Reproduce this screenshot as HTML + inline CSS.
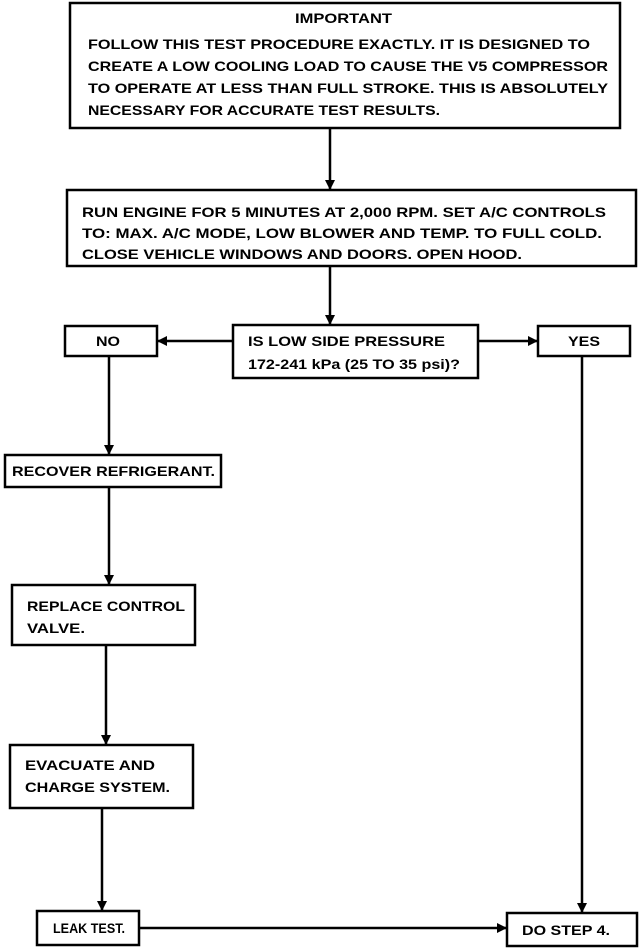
<!DOCTYPE html>
<html><head><meta charset="utf-8"><style>
html,body{margin:0;padding:0;background:#fff;}
svg{display:block}
text{font-family:"Liberation Sans",Arial,sans-serif;font-size:14px;font-weight:bold;fill:#000;}
</style></head><body>
<svg width="640" height="950" viewBox="0 0 640 950" xmlns="http://www.w3.org/2000/svg">
<defs><marker id="a" markerWidth="10" markerHeight="10" refX="9" refY="5" orient="auto" markerUnits="userSpaceOnUse"><path d="M0,0 L10,5 L0,10 z" fill="#000"/></marker></defs>
<g fill="none" stroke="#000" stroke-width="2.5">
<rect x="70" y="3" width="550" height="125"/>
<rect x="67" y="190" width="569" height="76"/>
<rect x="233" y="325" width="245" height="53"/>
<rect x="65" y="326" width="92" height="30"/>
<rect x="538" y="326" width="92" height="30"/>
<rect x="5" y="455" width="216" height="32"/>
<rect x="12" y="585" width="183" height="60"/>
<rect x="10" y="745" width="183" height="63"/>
<rect x="37" y="911" width="102" height="34"/>
<rect x="507" y="913" width="130" height="33"/>
</g>
<g stroke="#000" stroke-width="2.5" fill="none" marker-end="url(#a)">
<line x1="330" y1="128" x2="330" y2="189"/>
<line x1="330" y1="266" x2="330" y2="324"/>
<line x1="233" y1="341" x2="158" y2="341"/>
<line x1="478" y1="341" x2="537" y2="341"/>
<line x1="109" y1="356" x2="109" y2="454"/>
<line x1="109" y1="487" x2="109" y2="584"/>
<line x1="106" y1="645" x2="106" y2="744"/>
<line x1="102" y1="808" x2="102" y2="910"/>
<line x1="582" y1="356" x2="582" y2="912"/>
<line x1="139" y1="928" x2="506" y2="928"/>
</g>
<g lengthAdjust="spacingAndGlyphs">
<text x="295" y="23" textLength="97" lengthAdjust="spacingAndGlyphs">IMPORTANT</text>
<text x="88" y="49" textLength="502" lengthAdjust="spacingAndGlyphs">FOLLOW THIS TEST PROCEDURE EXACTLY. IT IS DESIGNED TO</text>
<text x="88" y="71" textLength="520" lengthAdjust="spacingAndGlyphs">CREATE A LOW COOLING LOAD TO CAUSE THE V5 COMPRESSOR</text>
<text x="88" y="93" textLength="520" lengthAdjust="spacingAndGlyphs">TO OPERATE AT LESS THAN FULL STROKE. THIS IS ABSOLUTELY</text>
<text x="88" y="115" textLength="352" lengthAdjust="spacingAndGlyphs">NECESSARY FOR ACCURATE TEST RESULTS.</text>
<text x="82" y="217" textLength="524" lengthAdjust="spacingAndGlyphs">RUN ENGINE FOR 5 MINUTES AT 2,000 RPM. SET A/C CONTROLS</text>
<text x="82" y="238" textLength="520" lengthAdjust="spacingAndGlyphs">TO: MAX. A/C MODE, LOW BLOWER AND TEMP. TO FULL COLD.</text>
<text x="82" y="259" textLength="440" lengthAdjust="spacingAndGlyphs">CLOSE VEHICLE WINDOWS AND DOORS. OPEN HOOD.</text>
<text x="248" y="346" textLength="197" lengthAdjust="spacingAndGlyphs">IS LOW SIDE PRESSURE</text>
<text x="248" y="369" textLength="212" lengthAdjust="spacingAndGlyphs">172-241 kPa (25 TO 35 psi)?</text>
<text x="96" y="346" textLength="24" lengthAdjust="spacingAndGlyphs">NO</text>
<text x="568" y="346" textLength="32" lengthAdjust="spacingAndGlyphs">YES</text>
<text x="12" y="476" textLength="203" lengthAdjust="spacingAndGlyphs">RECOVER REFRIGERANT.</text>
<text x="27" y="611" textLength="158" lengthAdjust="spacingAndGlyphs">REPLACE CONTROL</text>
<text x="27" y="633" textLength="58" lengthAdjust="spacingAndGlyphs">VALVE.</text>
<text x="25" y="770" textLength="130" lengthAdjust="spacingAndGlyphs">EVACUATE AND</text>
<text x="25" y="792" textLength="145" lengthAdjust="spacingAndGlyphs">CHARGE SYSTEM.</text>
<text x="53" y="933" textLength="72" lengthAdjust="spacingAndGlyphs">LEAK TEST.</text>
<text x="522" y="935" textLength="88" lengthAdjust="spacingAndGlyphs">DO STEP 4.</text>
</g>
</svg>
</body></html>
